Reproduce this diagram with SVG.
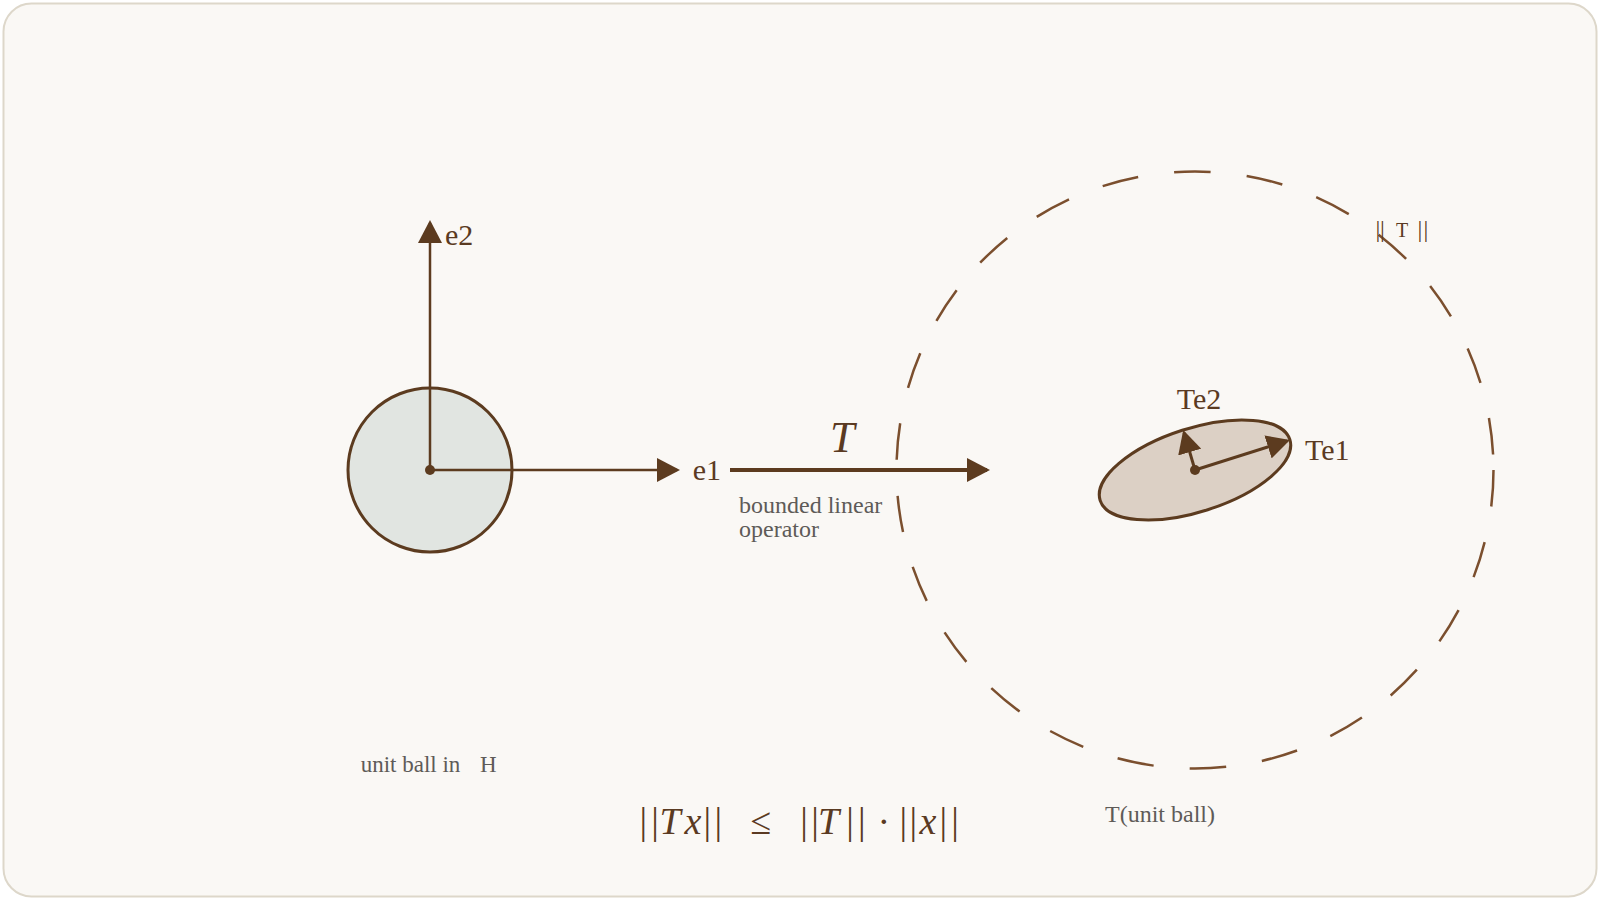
<svg xmlns="http://www.w3.org/2000/svg" width="1600" height="900" viewBox="0 0 1600 900">
  <style>
    .lbl { font-family: "Liberation Serif", "Times New Roman", serif; fill: #5a3a22; }
    .grey { font-family: "Liberation Serif", "Times New Roman", serif; fill: #5e5b58; }
    .edge { stroke: #5c3b1f; fill: none; stroke-linecap: butt; }
  </style>
  <defs>
    <marker id="arr" markerUnits="userSpaceOnUse" markerWidth="24" markerHeight="24" refX="20" refY="12" orient="auto">
      <path d="M0,0 L23,12 L0,24 Z" fill="#5c3b1f"/>
    </marker>
  </defs>

  <rect x="3.5" y="3.5" width="1593" height="893" rx="28" fill="#faf8f5" stroke="#ddd7ca" stroke-width="2"/>

  <g id="unit-ball">
    <circle cx="430" cy="470" r="82" fill="#e1e5e1" stroke="#5c3b1f" stroke-width="3"/>
    <text class="grey" x="360.7" y="771.7" font-size="23">unit ball in</text>
    <text class="grey" x="480" y="771.7" font-size="23">H</text>
  </g>

  <g id="norm-ball">
    <circle cx="1195" cy="470" r="298.5" fill="none" stroke="#7b4f2e" stroke-width="2.5" stroke-dasharray="36.7 36.2"/>
    <text class="lbl" y="237" font-size="20"><tspan x="1375.5 1380" font-size="24">||</tspan><tspan x="1396">T</tspan><tspan x="1417.5 1423.5" font-size="24">||</tspan></text>
  </g>

  <g id="image-ball">
    <ellipse cx="1195" cy="470" rx="99.6" ry="41.7" transform="rotate(-17.8 1195 470)" fill="#dcd0c5" stroke="#5c3b1f" stroke-width="3"/>
    <text class="grey" x="1105" y="822" font-size="24">T(unit ball)</text>
  </g>

  <g id="connectors">
    <line class="edge" x1="430" y1="470" x2="430" y2="223" stroke-width="2.5" marker-end="url(#arr)"/>
    <line class="edge" x1="430" y1="470" x2="677" y2="470" stroke-width="2.5" marker-end="url(#arr)"/>
    <line class="edge" x1="730" y1="470" x2="987" y2="470" stroke-width="4" marker-end="url(#arr)"/>
    <line class="edge" x1="1195" y1="470" x2="1287.1" y2="440.9" stroke-width="3" marker-end="url(#arr)"/>
    <line class="edge" x1="1195" y1="470" x2="1184.1" y2="432.9" stroke-width="3" marker-end="url(#arr)"/>
  </g>

  <g id="dots">
    <circle cx="430" cy="470" r="5" fill="#5c3b1f"/>
    <circle cx="1195" cy="470" r="5" fill="#5c3b1f"/>
  </g>

  <g id="labels">
    <text class="lbl" x="445" y="245" font-size="30">e2</text>
    <text class="lbl" x="692.7" y="480" font-size="30">e1</text>
    <text class="lbl" x="830" y="452" font-size="44" font-style="italic">T</text>
    <text class="grey" x="739" y="513" font-size="24">bounded linear</text>
    <text class="grey" x="739" y="537" font-size="24">operator</text>
    <text class="lbl" x="1176.7" y="409.3" font-size="30">Te2</text>
    <text class="lbl" x="1305" y="460" font-size="30">Te1</text>
  </g>

  <g id="formula">
    <text class="lbl" y="834.3" font-size="38"><tspan x="639.5 651.2">||</tspan><tspan x="659.4" font-style="italic">T</tspan><tspan x="684.6" font-style="italic">x</tspan><tspan x="703.5 714.5">||</tspan><tspan x="750.6">≤</tspan><tspan x="800.2 811.2">||</tspan><tspan x="818" font-style="italic">T</tspan><tspan x="846.2 857.9">||</tspan><tspan x="877.5">·</tspan><tspan x="899.5 909.5">||</tspan><tspan x="919.5" font-style="italic">x</tspan><tspan x="939.5 951.2">||</tspan></text>
  </g>
</svg>
